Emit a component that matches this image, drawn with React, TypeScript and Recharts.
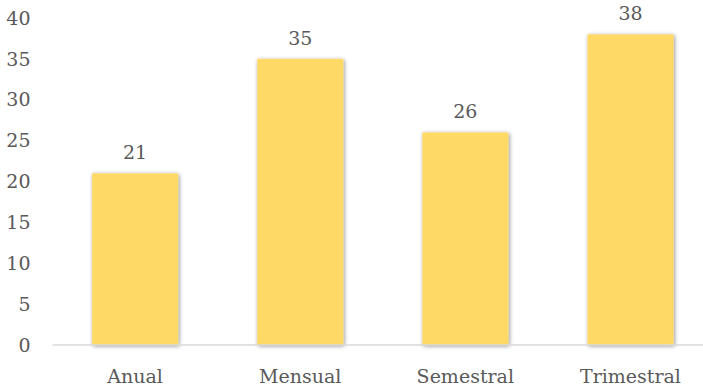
import { BarChart, Bar, XAxis, YAxis, LabelList } from "recharts";

const categories = ["Anual", "Mensual", "Semestral", "Trimestral"];
const counts = [21, 35, 26, 38];
const yTicks = [0, 5, 10, 15, 20, 25, 30, 35, 40];

const data = categories.map((name, i) => ({ name, value: counts[i] }));

const FONT = "'DejaVu Serif', serif";
const TEXT = "#595959";

// bar with a soft grey drop shadow, like the office-style original
function ShadowBar(props: any) {
  const { x, y, width, height, index } = props;
  if (!height || height <= 0) return null;
  const id = `bar-shadow-${index}`;
  return (
    <g>
      <defs>
        <filter id={id} x="-20%" y="-20%" width="140%" height="140%">
          <feDropShadow dx="1" dy="1" stdDeviation="2.2" floodColor="#000" floodOpacity="0.45" />
        </filter>
      </defs>
      <rect x={x} y={y} width={width} height={height} fill="#FFD966" filter={`url(#${id})`} />
    </g>
  );
}

export default function App() {
  return (
    <div style={{ position: "fixed", left: 0, top: 0, width: 703, height: 389, overflow: "hidden", background: "#fff" }}>
      <BarChart
        width={713}
        height={389}
        data={data}
        margin={{ top: 18, right: 0, left: 0, bottom: 0 }}
        barCategoryGap="24%"
      >
        <XAxis
          dataKey="name"
          height={44}
          tickLine={false}
          axisLine={{ stroke: "#d9d9d9", strokeWidth: 1.5 }}
          tick={{ fill: TEXT, fontSize: 19, fontFamily: FONT }}
          tickMargin={19}
        />
        <YAxis
          width={52.5}
          domain={[0, 40]}
          ticks={yTicks}
          axisLine={false}
          tickLine={false}
          tick={{ fill: TEXT, fontSize: 19, fontFamily: FONT }}
          tickMargin={16}
          interval={0}
        />
        <Bar dataKey="value" shape={<ShadowBar />} isAnimationActive={false}>
          <LabelList dataKey="value" position="top" offset={14} fill={TEXT} fontSize={19} fontFamily={FONT} />
        </Bar>
      </BarChart>
    </div>
  );
}
